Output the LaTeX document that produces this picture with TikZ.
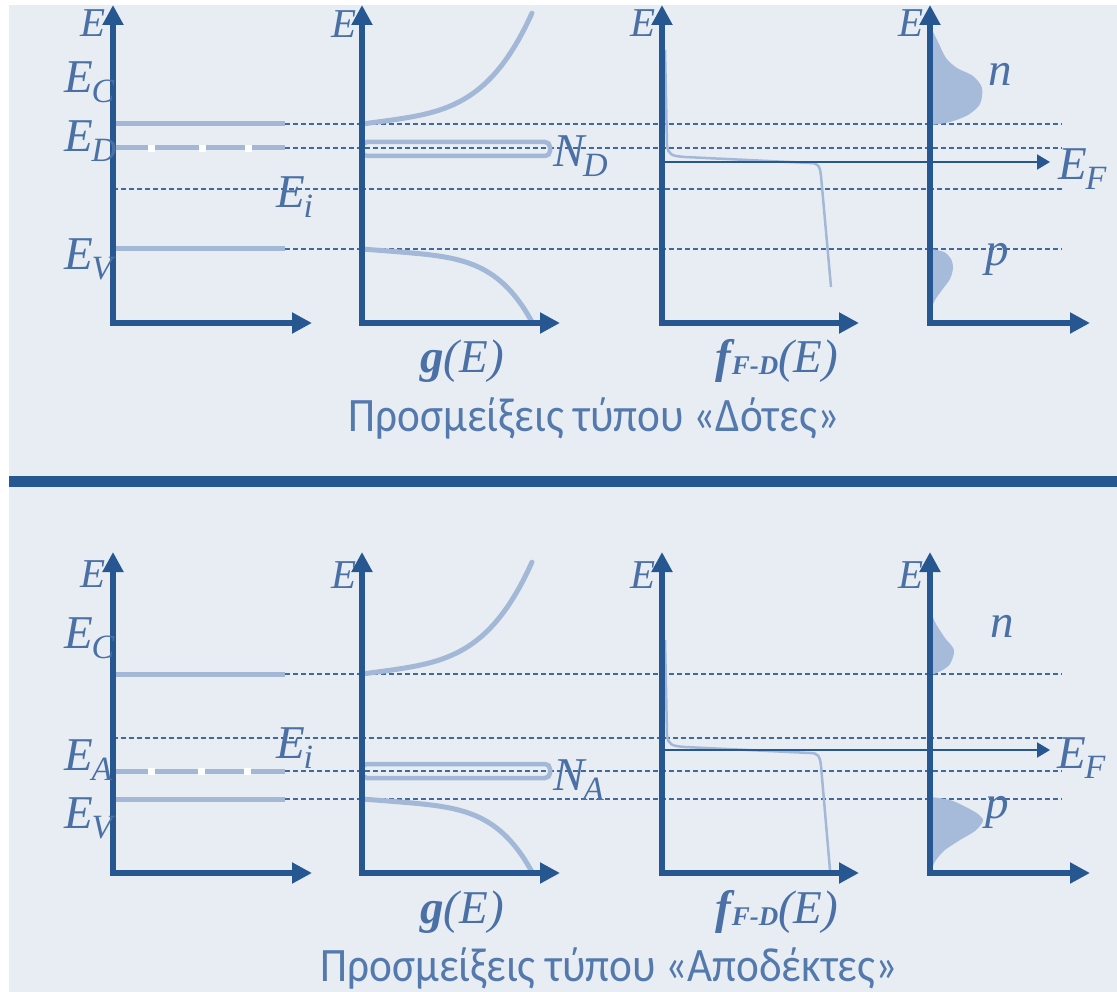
\documentclass[tikz,border=0pt]{standalone}
\usepackage{fontspec}
\setmainfont{Liberation Serif}
\newfontfamily\capfont{Carlito}
\usetikzlibrary{arrows.meta}
\definecolor{bgc}{HTML}{E8EDF4}
\definecolor{axisc}{HTML}{265791}
\definecolor{litec}{HTML}{A3B8D6}
\definecolor{dashc}{HTML}{4069A2}
\definecolor{txtc}{HTML}{4A70A6}
\definecolor{capc}{HTML}{5479AC}
\definecolor{fillc}{HTML}{A6BBD9}
\newcommand\Lsub[2]{#1\kern-0.03em\raisebox{-10pt}{\fontsize{34}{34}\selectfont #2}}
\newcommand\fFD{{\bfseries f\kern0.02em\raisebox{-2pt}{\fontsize{27}{27}\selectfont F-D}}(E)}
\newcommand\capbox[1]{\scalebox{0.9}[1]{#1}}
\tikzset{
  axisline/.style={draw=axisc, line width=6pt, line join=miter,
     {Triangle[length=20pt,width=20pt]}-{Triangle[length=20pt,width=20pt]}},
  levelline/.style={draw=litec, line width=5pt},
  dashline/.style={draw=dashc, line width=1.5pt, dash pattern=on 5pt off 3pt},
  dcurve/.style={draw=litec, line width=5pt, line cap=round},
  fdcurve/.style={draw=litec, line width=2.5pt},
  efarrow/.style={draw=axisc, line width=2pt, -{Triangle[length=13pt,width=15pt]}},
  barbox/.style={draw=litec, line width=4.5pt, rounded corners=5pt},
  lbl/.style={text=txtc, font=\fontsize{47}{47}\selectfont\itshape, inner sep=0pt, anchor=base west},
  toplbl/.style={text=txtc, font=\fontsize{41}{41}\selectfont\itshape, inner sep=0pt, anchor=base west},
  caption/.style={text=capc, font=\capfont\fontsize{48}{48}\selectfont, inner sep=0pt, anchor=base},
  gap/.style={fill=white}
}
\begin{document}
\begin{tikzpicture}[x=1pt,y=-1pt]
\useasboundingbox (0,0) rectangle (1117,992);
\fill[white] (0,0) rectangle (1117,992);
\fill[bgc] (9,5) rectangle (1117,992);
\fill[axisc] (9,476) rectangle (1117,487);

% ================= TOP PANEL =================
\coordinate (o1) at (113,323); \coordinate (t1) at (113,5); \coordinate (r1) at (312,323);
\coordinate (o2) at (362,323); \coordinate (t2) at (362,5); \coordinate (r2) at (560,323);
\coordinate (o3) at (662,323); \coordinate (t3) at (662,5); \coordinate (r3) at (859,323);
\coordinate (o4) at (930,323); \coordinate (t4) at (930,5); \coordinate (r4) at (1090,323);

% dashed reference lines
\draw[dashline] (285,124) -- (1062,124);
\draw[dashline] (285,148) -- (1062,148);
\draw[dashline] (113,189) -- (1062,189);
\draw[dashline] (285,249) -- (1062,249);

% band levels
\draw[levelline] (113,124) -- (285,124);
\draw[levelline] (113,148) -- (285,148);
\fill[gap] (148,145) rectangle (155,152);
\fill[gap] (199,145) rectangle (206,152);
\fill[gap] (245,145) rectangle (252,152);
\draw[levelline] (113,249) -- (285,249);

% density of states
\draw[dcurve] plot[domain=0:1,samples=50] ({362+170*\x},{124-111*(0.2*\x+0.8*\x*\x*\x*\x)});
\draw[dcurve] plot[domain=0:1,samples=50] ({362+170*\x},{249+73*(0.18*\x+0.82*\x*\x*\x*\x*\x)});
\draw[barbox] (362,142) rectangle (550,156);

% Fermi-Dirac
\draw[fdcurve] (665,50) -- (667,145) .. controls (668,155) and (672,156) .. (685,157)
  -- (810,163) .. controls (818,163) and (820,166) .. (821,176) -- (831,287);

% carrier distributions
\fill[fillc] plot[smooth] coordinates {(931,28) (938,42) (946,58) (957,68) (973,76) (982,88) (980,104) (968,115) (950,122) (931,125)} -- cycle;
\fill[fillc] plot[smooth] coordinates {(931,249) (944,252) (951,259) (953,268) (950,279) (942,290) (935,300) (931,310)} -- cycle;

% top labels E
\node[toplbl] (eT1) at (80,37) {E};
\node[toplbl] (eT2) at (331,38) {E};
\node[toplbl] (eT3) at (630,37) {E};
\node[toplbl] (eT4) at (898,37) {E};

% axes
\draw[axisline] (t1) -- (o1) -- (r1);
\draw[axisline] (t2) -- (o2) -- (r2);
\draw[axisline] (t3) -- (o3) -- (r3);
\draw[axisline] (t4) -- (o4) -- (r4);
\coordinate (ef1s) at (662,162); \coordinate (ef1e) at (1050,162);
\draw[efarrow] (ef1s) -- (ef1e);

% labels
\node[lbl] (ec1) at (64,93) {\Lsub{E}{C}};
\node[lbl] (ed1) at (64,152) {\Lsub{E}{D}};
\node[lbl] (ev1) at (64,270) {\Lsub{E}{V}};
\node[lbl] (ei1) at (276,208) {\Lsub{E}{i}};
\node[lbl] (nd1) at (553,167) {\Lsub{N}{D}};
\node[lbl] (ef1) at (1058,180) {\Lsub{E}{F}};
\node[lbl] (n1) at (988,86) {n};
\node[lbl] (p1) at (985,266) {p};
\node[lbl] (g1) at (420,373) {{\bfseries g}(E)};
\node[lbl] (f1) at (715,373) {\fFD};
\node[caption] (cap1) at (594,431) {\capbox{Προσμείξεις τύπου «Δότες»}};

% ================= BOTTOM PANEL =================
\coordinate (o5) at (113,873); \coordinate (t5) at (113,552); \coordinate (r5) at (312,873);
\coordinate (o6) at (362,873); \coordinate (t6) at (362,552); \coordinate (r6) at (560,873);
\coordinate (o7) at (662,873); \coordinate (t7) at (662,552); \coordinate (r7) at (859,873);
\coordinate (o8) at (930,873); \coordinate (t8) at (930,552); \coordinate (r8) at (1090,873);

\draw[dashline] (285,674) -- (1062,674);
\draw[dashline] (113,738) -- (1062,738);
\draw[dashline] (285,771) -- (1062,771);
\draw[dashline] (285,799) -- (1062,799);

\draw[levelline] (113,674) -- (285,674);
\draw[levelline] (113,771) -- (285,771);
\fill[gap] (148,768) rectangle (155,775);
\fill[gap] (198,768) rectangle (205,775);
\fill[gap] (244,768) rectangle (251,775);
\draw[levelline] (113,799) -- (285,799);

\draw[dcurve] plot[domain=0:1,samples=50] ({362+170*\x},{674-112*(0.2*\x+0.8*\x*\x*\x*\x)});
\draw[dcurve] plot[domain=0:1,samples=50] ({362+170*\x},{799+73*(0.18*\x+0.82*\x*\x*\x*\x*\x)});
\draw[barbox] (362,764) rectangle (550,778);

\draw[fdcurve] (665,640) -- (667,735) .. controls (668,745) and (672,746) .. (685,747)
  -- (810,753) .. controls (818,753) and (820,756) .. (821,766) -- (830,870);

\fill[fillc] plot[smooth] coordinates {(931,612) (936,624) (945,638) (954,650) (950,664) (941,671) (931,675)} -- cycle;
\fill[fillc] plot[smooth] coordinates {(931,797) (950,800) (964,806) (978,814) (983,821) (975,831) (960,840) (945,850) (936,860) (931,870)} -- cycle;

\node[toplbl] (eT5) at (80,587) {E};
\node[toplbl] (eT6) at (331,588) {E};
\node[toplbl] (eT7) at (630,588) {E};
\node[toplbl] (eT8) at (898,588) {E};

\draw[axisline] (t5) -- (o5) -- (r5);
\draw[axisline] (t6) -- (o6) -- (r6);
\draw[axisline] (t7) -- (o7) -- (r7);
\draw[axisline] (t8) -- (o8) -- (r8);
\coordinate (ef2s) at (662,750); \coordinate (ef2e) at (1050,750);
\draw[efarrow] (ef2s) -- (ef2e);

\node[lbl] (ec2) at (64,648) {\Lsub{E}{C}};
\node[lbl] (ea2) at (64,770) {\Lsub{E}{A}};
\node[lbl] (ev2) at (64,828) {\Lsub{E}{V}};
\node[lbl] (ei2) at (276,758) {\Lsub{E}{i}};
\node[lbl] (na2) at (553,790) {\Lsub{N}{A}};
\node[lbl] (ef2) at (1057,768) {\Lsub{E}{F}};
\node[lbl] (n2) at (990,637) {n};
\node[lbl] (p2) at (985,818) {p};
\node[lbl] (g2) at (420,923) {{\bfseries g}(E)};
\node[lbl] (f2) at (715,923) {\fFD};
\node[caption] (cap2) at (609,981) {\capbox{Προσμείξεις τύπου «Αποδέκτες»}};
\end{tikzpicture}
\end{document}
